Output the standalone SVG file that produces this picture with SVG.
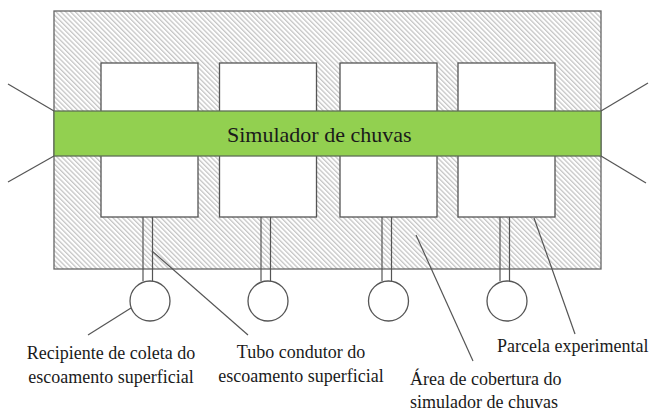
<svg xmlns="http://www.w3.org/2000/svg" width="654" height="412" viewBox="0 0 654 412">
<defs>
<pattern id="hatch" patternUnits="userSpaceOnUse" width="3.4" height="3.4" patternTransform="rotate(-45)">
<rect width="3.4" height="3.4" fill="#ffffff"/>
<line x1="0.7" y1="0" x2="0.7" y2="3.4" stroke="#b4b4b4" stroke-width="1"/>
</pattern>
</defs>
<style>
.ln{stroke:#555;stroke-width:1.2;fill:none}
.box{fill:#fff;stroke:#555;stroke-width:1.3}
.tx{font-family:"Liberation Serif","Times New Roman",serif;font-size:18px;fill:#1a1a1a}
</style>
<g id="area">
<rect x="54" y="11" width="547" height="258" fill="url(#hatch)" stroke="#666" stroke-width="1.3"/>
</g>
<g id="parcela1"><rect class="box" x="101" y="63" width="97" height="154"/></g>
<g id="parcela2"><rect class="box" x="219.5" y="63" width="97" height="154"/></g>
<g id="parcela3"><rect class="box" x="340" y="63" width="97" height="154"/></g>
<g id="parcela4"><rect class="box" x="458" y="63" width="97" height="154"/></g>
<g id="tubos">
<line class="ln" x1="143" y1="217" x2="143" y2="281"/><line class="ln" x1="152.5" y1="217" x2="152.5" y2="281"/>
<line class="ln" x1="261" y1="217" x2="261" y2="281"/><line class="ln" x1="270.5" y1="217" x2="270.5" y2="281"/>
<line class="ln" x1="382" y1="217" x2="382" y2="281"/><line class="ln" x1="391.5" y1="217" x2="391.5" y2="281"/>
<line class="ln" x1="500" y1="217" x2="500" y2="281"/><line class="ln" x1="509.5" y1="217" x2="509.5" y2="281"/>
</g>
<g id="recipientes">
<circle class="box" cx="150" cy="301" r="20"/>
<circle class="box" cx="268" cy="301" r="20"/>
<circle class="box" cx="388.5" cy="301" r="20"/>
<circle class="box" cx="507" cy="301" r="20"/>
</g>
<g id="simulador">
<rect x="54" y="111" width="547" height="45" fill="#92d050" stroke="#5f6f55" stroke-width="1.3"/>
<text x="227" y="142" font-family="Liberation Serif,Times New Roman,serif" font-size="22" fill="#1a1a1a">Simulador de chuvas</text>
</g>
<g id="connectors">
<line class="ln" x1="8" y1="84" x2="54" y2="111"/>
<line class="ln" x1="8" y1="182" x2="54" y2="156"/>
<line class="ln" x1="601" y1="111" x2="648" y2="83"/>
<line class="ln" x1="601" y1="156" x2="646" y2="183"/>
<line class="ln" x1="131" y1="308" x2="88" y2="335"/>
<line class="ln" x1="152" y1="251" x2="248" y2="335"/>
<line class="ln" x1="416" y1="235" x2="473" y2="361"/>
<line class="ln" x1="534" y1="218" x2="575" y2="334"/>
</g>
<g id="labels">
<text class="tx" x="111" y="359" text-anchor="middle">Recipiente de coleta do</text>
<text class="tx" x="111" y="383" text-anchor="middle">escoamento superficial</text>
<text class="tx" x="301" y="358" text-anchor="middle">Tubo condutor do</text>
<text class="tx" x="301" y="382" text-anchor="middle">escoamento superficial</text>
<text class="tx" x="497" y="352">Parcela experimental</text>
<text class="tx" x="410" y="385">Área de cobertura do</text>
<text class="tx" x="410" y="408">simulador de chuvas</text>
</g>
</svg>
